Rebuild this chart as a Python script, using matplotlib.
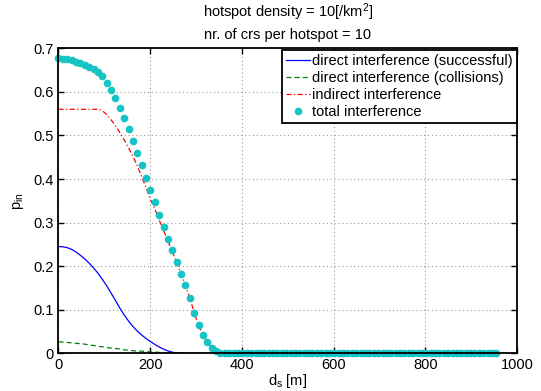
import numpy as np
import matplotlib
matplotlib.use("Agg")
import matplotlib.pyplot as plt
from matplotlib.ticker import FixedLocator, FixedFormatter

plt.rcParams['font.family'] = ['Liberation Sans', 'DejaVu Sans']
plt.rcParams['mathtext.fontset'] = 'custom'
plt.rcParams['mathtext.rm'] = 'Liberation Sans'
plt.rcParams['mathtext.it'] = 'Liberation Sans'

# distance grid (m): 101 samples
d_s = np.linspace(0, 955, 101)

direct_successful = [0.245, 0.2445, 0.2425, 0.2385, 0.2325, 0.225, 0.2165, 0.207, 0.196, 0.184,
                     0.170, 0.155, 0.1385, 0.1215, 0.104, 0.088, 0.074, 0.0615, 0.051, 0.042,
                     0.034, 0.027, 0.0205, 0.0145, 0.0095, 0.0055, 0.0025, 0.0008] + [0.0] * 73

direct_collisions = [0.026, 0.026, 0.025, 0.024, 0.023, 0.022, 0.021, 0.019, 0.018, 0.016,
                     0.015, 0.013, 0.012, 0.011, 0.010, 0.008, 0.007, 0.006, 0.005, 0.005,
                     0.004, 0.003, 0.003, 0.002, 0.002, 0.001, 0.001, 0.0005] + [0.0] * 73

indirect = [0.56, 0.56, 0.56, 0.56, 0.56, 0.56, 0.56, 0.56, 0.56, 0.56,
            0.557, 0.548, 0.536, 0.522, 0.507, 0.490, 0.472, 0.452, 0.430, 0.406,
            0.380, 0.353, 0.331, 0.306, 0.282, 0.258, 0.233, 0.208, 0.183, 0.156,
            0.127, 0.093, 0.064, 0.042, 0.025, 0.013, 0.005, 0.0015] + [0.0] * 63

total = [0.677, 0.676, 0.675, 0.672, 0.669, 0.666, 0.662, 0.657, 0.652, 0.646,
         0.637, 0.621, 0.604, 0.585, 0.563, 0.539, 0.514, 0.488, 0.460, 0.432,
         0.403, 0.374, 0.347, 0.318, 0.291, 0.263, 0.236, 0.209, 0.183, 0.156,
         0.127, 0.093, 0.064, 0.042, 0.025, 0.013, 0.005, 0.0015] + [0.0] * 63

labels = ['direct interference (successful)', 'direct interference (collisions)',
          'indirect interference', 'total interference']
xticks = [0, 200, 400, 600, 800, 1000]
xticklabels = ['0', '200', '400', '600', '800', '1000']
yticks = [0, 0.1, 0.2, 0.3, 0.4, 0.5, 0.6, 0.7]
yticklabels = ['0', '0.1', '0.2', '0.3', '0.4', '0.5', '0.6', '0.7']

FS = 10.5

fig = plt.figure(figsize=(5.41, 3.91), dpi=100)
ax = fig.add_axes([0.1081, 0.0964, 0.8475, 0.7801])

ax.plot(d_s, direct_successful, '-', color='#0000ff', lw=0.9, label=labels[0])
ax.plot(d_s, direct_collisions, '--', color='#008000', lw=0.9, label=labels[1], dashes=(4, 2.5))
ax.plot(d_s, indirect, '-.', color='#ff0000', lw=0.9, label=labels[2], dashes=(4, 2, 1, 2))
ax.plot(d_s, total, 'o', color='#17c3c3', ms=4.5, mec='#17c3c3', label=labels[3], clip_on=False, zorder=5)

ax.set_xlim(0, 1000)
ax.set_ylim(0, 0.7)
ax.xaxis.set_major_locator(FixedLocator(xticks))
ax.xaxis.set_major_formatter(FixedFormatter(xticklabels))
ax.yaxis.set_major_locator(FixedLocator(yticks))
ax.yaxis.set_major_formatter(FixedFormatter(yticklabels))
ax.tick_params(direction='in', length=4, width=1.0, top=True, right=True,
               labelsize=FS, colors='black', pad=3.5)
ax.grid(True, linestyle=(0, (1, 2.5)), color='#999999', lw=0.8)
for s in ax.spines.values():
    s.set_linewidth(1.3)
    s.set_zorder(6)

ax.set_xlabel('d$_{\\mathregular{s}}$ [m]', fontsize=FS, labelpad=0)
ax.set_ylabel('p$_{\\mathregular{in}}$', fontsize=FS, labelpad=5)
ax.set_title('hotspot density = 10[/km$^{\\mathregular{2}}$]\nnr. of crs per hotspot = 10',
             fontsize=FS, linespacing=1.45, pad=7)

leg = ax.legend(loc='upper right', bbox_to_anchor=(1.0, 0.995), fontsize=FS,
                fancybox=False, framealpha=1, edgecolor='black', borderaxespad=0,
                handlelength=1.6, handletextpad=0.15, labelspacing=0.2,
                borderpad=0.3, numpoints=1)
leg.get_frame().set_linewidth(1.3)
leg.set_zorder(7)

fig.savefig('out.png', dpi=100)
